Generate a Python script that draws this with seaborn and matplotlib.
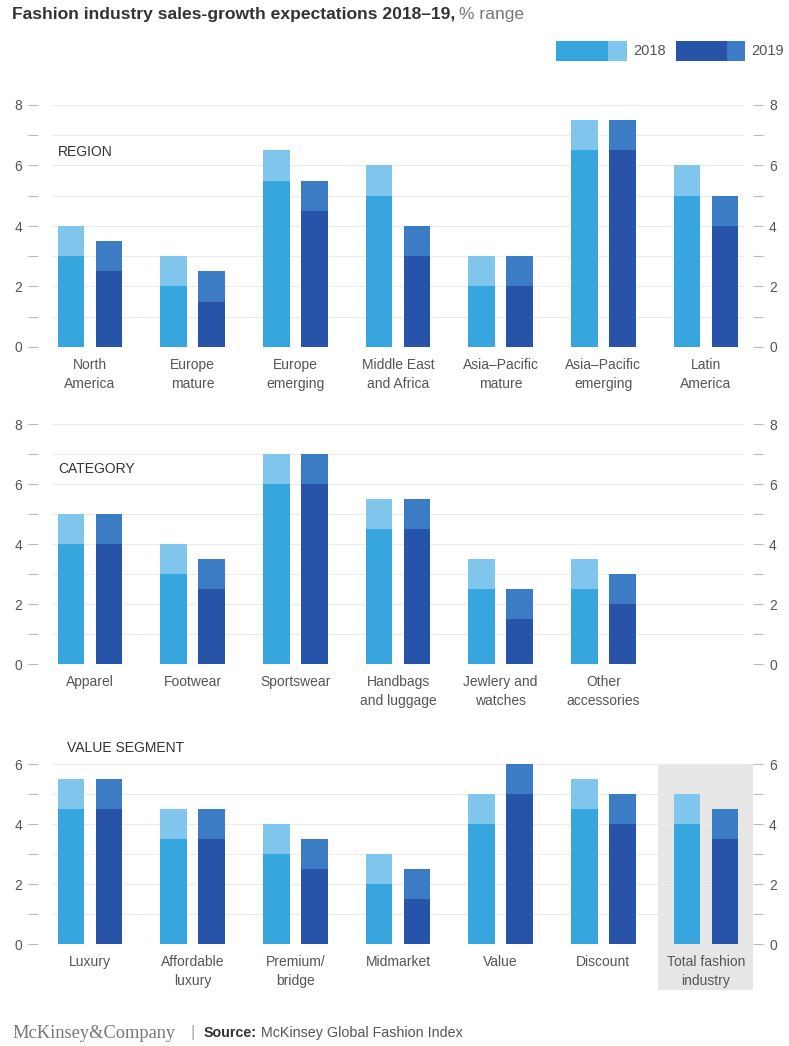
import matplotlib.pyplot as plt
import matplotlib.ticker as mticker
from matplotlib.patches import Rectangle
import matplotlib.transforms as mtransforms
import seaborn as sns
import pandas as pd

# data: growth expectation ranges (low / high), % per year
region_labels = ['North\nAmerica', 'Europe\nmature', 'Europe\nemerging', 'Middle East\nand Africa',
                 'Asia–Pacific\nmature', 'Asia–Pacific\nemerging', 'Latin\nAmerica']
region_2018_low = [3, 2, 5.5, 5, 2, 6.5, 5]
region_2018_high = [4, 3, 6.5, 6, 3, 7.5, 6]
region_2019_low = [2.5, 1.5, 4.5, 3, 2, 6.5, 4]
region_2019_high = [3.5, 2.5, 5.5, 4, 3, 7.5, 5]

category_labels = ['Apparel', 'Footwear', 'Sportswear', 'Handbags\nand luggage',
                   'Jewlery and\nwatches', 'Other\naccessories']
category_2018_low = [4, 3, 6, 4.5, 2.5, 2.5]
category_2018_high = [5, 4, 7, 5.5, 3.5, 3.5]
category_2019_low = [4, 2.5, 6, 4.5, 1.5, 2]
category_2019_high = [5, 3.5, 7, 5.5, 2.5, 3]

segment_labels = ['Luxury', 'Affordable\nluxury', 'Premium/\nbridge', 'Midmarket',
                  'Value', 'Discount', 'Total fashion\nindustry']
segment_2018_low = [4.5, 3.5, 3, 2, 4, 4.5, 4]
segment_2018_high = [5.5, 4.5, 4, 3, 5, 5.5, 5]
segment_2019_low = [4.5, 3.5, 2.5, 1.5, 5, 4, 3.5]
segment_2019_high = [5.5, 4.5, 3.5, 2.5, 6, 5, 4.5]

years = ['2018', '2019']
low_colors = {'2018': '#38a6de', '2019': '#2753a8'}
high_colors = {'2018': '#80c6ec', '2019': '#3c7cc4'}

sns.set_style('white')
plt.rcParams['font.family'] = ['Liberation Sans', 'DejaVu Sans']

W, H = 789, 1046
fig = plt.figure(figsize=(W / 100, H / 100), dpi=100)


def frame(labels, l18, h18, l19, h19):
    rows = []
    for i, lab in enumerate(labels):
        rows.append((lab, '2018', l18[i], h18[i]))
        rows.append((lab, '2019', l19[i], h19[i]))
    return pd.DataFrame(rows, columns=['name', 'year', 'low', 'high'])


def panel(top_px, bottom_px, labels, l18, h18, l19, h19, ymax):
    ax = fig.add_axes([52 / W, 1 - bottom_px / H, (744 - 52) / W, (bottom_px - top_px) / H])
    df = frame(labels, l18, h18, l19, h19)
    # full range in the light shade, lower bound drawn over it in the base shade
    sns.barplot(data=df, x='name', y='high', hue='year', order=labels, hue_order=years,
                palette=high_colors, width=0.74, gap=0.3, saturation=1, legend=False,
                linewidth=0, ax=ax, zorder=2)
    sns.barplot(data=df, x='name', y='low', hue='year', order=labels, hue_order=years,
                palette=low_colors, width=0.74, gap=0.3, saturation=1, legend=False,
                linewidth=0, ax=ax, zorder=3)
    ax.set_xlim(-0.37, 6.37)
    ax.set_ylim(0, ymax)
    ax.set_xlabel('')
    ax.set_ylabel('')
    ax.yaxis.set_major_locator(mticker.MultipleLocator(2))
    ax.yaxis.set_minor_locator(mticker.MultipleLocator(1))
    ax.set_axisbelow(True)
    ax.grid(which='both', axis='y', color='#ececec', lw=0.8)
    ax.spines['left'].set_position(('outward', 10))
    ax.spines['right'].set_position(('outward', 6.5))
    for s in ['top', 'bottom', 'left', 'right']:
        ax.spines[s].set_visible(False)
    ax.tick_params(axis='y', which='both', left=True, right=True, labelleft=True, labelright=True,
                   length=7, width=0.8, color='#bbbbbb', labelsize=10, labelcolor='#555555')
    ax.tick_params(axis='y', which='major', pad=4.5)
    ax.tick_params(axis='x', length=0, pad=8, labelsize=10, labelcolor='#555555')
    for t in ax.get_xticklabels():
        t.set_linespacing(1.45)
    return ax


def section(ax, text, y):
    ax.text(0.009, y, text, transform=mtransforms.blended_transform_factory(ax.transAxes, ax.transData),
            fontsize=10, color='#333333', va='center')


ax1 = panel(105, 347, region_labels, region_2018_low, region_2018_high,
            region_2019_low, region_2019_high, 8)
section(ax1, 'REGION', 6.45)

ax2 = panel(424, 664, category_labels, category_2018_low, category_2018_high,
            category_2019_low, category_2019_high, 8)
section(ax2, 'CATEGORY', 6.5)

ax3 = panel(764, 944, segment_labels, segment_2018_low, segment_2018_high,
            segment_2019_low, segment_2019_high, 6)
ax3.text(0.022, 1.0 + 16 / 180, 'VALUE SEGMENT', transform=ax3.transAxes,
         fontsize=10, color='#333333', va='center')

# highlight for total industry
shade = Rectangle((5.53, -0.256), 0.93, 1.256,
                  transform=mtransforms.blended_transform_factory(ax3.transData, ax3.transAxes),
                  facecolor='#e6e6e6', edgecolor='none', zorder=0.3, clip_on=False)
ax3.add_patch(shade)

# title
t1 = fig.text(12 / W, 1 - 15 / H, 'Fashion industry sales-growth expectations 2018–19,',
              fontsize=12.6, fontweight='bold', color='#333333', va='center')
fig.canvas.draw()
bb = t1.get_window_extent()
fig.text((bb.x1 + 4) / W, 1 - 15 / H, '% range', fontsize=12.6, color='#777777', va='center')

# legend
for x0, xm, x1, yr in [(556, 608, 627, '2018'), (676, 727, 745, '2019')]:
    fig.add_artist(Rectangle((x0 / W, 1 - 61 / H), (xm - x0) / W, 20 / H,
                             transform=fig.transFigure, color=low_colors[yr], lw=0))
    fig.add_artist(Rectangle((xm / W, 1 - 61 / H), (x1 - xm) / W, 20 / H,
                             transform=fig.transFigure, color=high_colors[yr], lw=0))
    fig.text((x1 + 6) / W, 1 - 51 / H, yr, fontsize=10.5, color='#555555', va='center')

# footer
fig.text(12 / W, 1 - 1033 / H, 'McKinsey&Company', fontsize=13.2, color='#777777',
         family='Liberation Serif', va='center')
fig.text(191 / W, 1 - 1033 / H, '|', fontsize=12, color='#aaaaaa', va='center')
s1 = fig.text(204 / W, 1 - 1033 / H, 'Source:', fontsize=10.3, fontweight='bold', color='#333333', va='center')
fig.canvas.draw()
bb = s1.get_window_extent()
fig.text((bb.x1 + 4) / W, 1 - 1033 / H, 'McKinsey Global Fashion Index', fontsize=10.3,
         color='#555555', va='center')

fig.savefig('out.png', dpi=100)
